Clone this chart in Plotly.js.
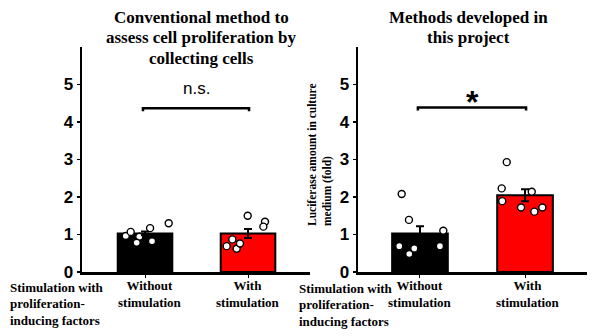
<!DOCTYPE html>
<html>
<head>
<meta charset="utf-8">
<script src="https://cdn.plot.ly/plotly-3.0.1.min.js"></script>
<style>html,body{margin:0;padding:0;background:#fff;}#chart{width:600px;height:336px;}</style>
</head>
<body>
<div id="chart"></div>
<script>
// ---- data ----
const catPos = [0, 1];
const catLabels = ['Without<br>stimulation', 'With<br>stimulation'];
const barColors = ['#000000', '#ff0000'];

// left panel: conventional method
const leftMeans = [1.03, 1.03];
const leftSEM = [0.05, 0.12];
const leftWithoutVals = [0.96, 1.07, 0.94, 0.78, 1.17, 0.82, 1.30];
const leftWithoutJit = [-0.187, -0.139, -0.055, -0.081, 0.049, 0.068, 0.230];
const leftWithVals = [0.69, 0.87, 0.62, 0.76, 1.50, 1.34, 1.21];
const leftWithJit = [-0.207, -0.152, -0.110, -0.078, -0.003, 0.165, 0.149];

// right panel: methods developed in this project
const rightMeans = [1.03, 2.05];
const rightSEM = [0.19, 0.16];
const rightWithoutVals = [2.08, 1.39, 1.10, 0.69, 0.63, 0.48, 0.69];
const rightWithoutJit = [-0.174, -0.105, 0.222, -0.197, -0.054, -0.102, 0.190];
const rightWithVals = [2.93, 2.23, 2.14, 1.89, 1.72, 1.61, 1.72];
const rightWithJit = [-0.174, -0.222, 0.064, -0.217, -0.038, 0.089, 0.165];

const yTicks = [0, 1, 2, 3, 4, 5];
const leftTitle = ['Conventional method to', 'assess cell proliferation by', 'collecting cells'];
const rightTitle = ['Methods developed in', 'this project'];
const rowLabel = ['Stimulation with', 'proliferation-', 'inducing factors'];
const yTitle = 'Luciferase amount in culture<br>medium (fold)';
const sigLeft = {text: 'n.s.', y: 4.37};
const sigRight = {text: '*', y: 4.39};

// ---- helpers ----
const W = 600, H = 336;
const px = x => x / W;
const py = y => 1 - y / H;
const serifB = {family: 'Liberation Serif, Times New Roman, serif', weight: 'bold', color: '#000'};

function pts(vals, jit, base, xa, ya) {
  return {
    type: 'scatter', mode: 'markers', xaxis: xa, yaxis: ya,
    x: vals.map((v, i) => base + jit[i]), y: vals,
    marker: {size: 7, color: '#fff', line: {color: '#000', width: 1.4}},
    hoverinfo: 'skip', showlegend: false, cliponaxis: false
  };
}
function bars(means, xa, ya) {
  return {
    type: 'bar', x: catPos, y: means, xaxis: xa, yaxis: ya, width: 0.53,
    marker: {color: barColors, line: {color: '#000', width: 2}},
    showlegend: false, hoverinfo: 'skip'
  };
}
function errs(means, sem, xa, ya) {
  return {
    type: 'scatter', mode: 'markers', x: catPos, y: means, xaxis: xa, yaxis: ya,
    marker: {size: 1, opacity: 0},
    error_y: {type: 'data', array: sem, visible: true, color: '#000', thickness: 2, width: 4},
    showlegend: false, hoverinfo: 'skip'
  };
}

const data = [
  bars(leftMeans, 'x', 'y'),
  pts(leftWithoutVals, leftWithoutJit, catPos[0], 'x', 'y'),
  pts(leftWithVals, leftWithJit, catPos[1], 'x', 'y'),
  errs(leftMeans, leftSEM, 'x', 'y'),
  bars(rightMeans, 'x2', 'y2'),
  pts(rightWithoutVals, rightWithoutJit, catPos[0], 'x2', 'y2'),
  pts(rightWithVals, rightWithJit, catPos[1], 'x2', 'y2'),
  errs(rightMeans, rightSEM, 'x2', 'y2')
];

const xBase = {
  tickvals: catPos, ticktext: catLabels, showticklabels: false,
  showline: true, linecolor: '#000', linewidth: 2.5,
  ticks: 'outside', ticklen: 3, tickwidth: 1, tickcolor: '#000',
  showgrid: false, zeroline: false, fixedrange: true
};
const yBase = {
  range: [0, 6], tickvals: yTicks, ticktext: yTicks.map(String),
  showline: true, linecolor: '#000', linewidth: 2.5,
  ticks: 'outside', ticklen: 3, tickwidth: 1.5, tickcolor: '#000',
  tickfont: {family: 'Liberation Sans, Arial, sans-serif', size: 17, weight: 'bold', color: '#000'},
  showgrid: false, zeroline: false, fixedrange: true,
  domain: [py(272), py(47)]
};

const annotations = [];
leftTitle.forEach((t, i) => annotations.push({
  text: t, xref: 'paper', yref: 'paper', x: px(201), y: py(17 + i * 20.5),
  xanchor: 'center', yanchor: 'middle', showarrow: false, font: Object.assign({size: 17}, serifB)
}));
rightTitle.forEach((t, i) => annotations.push({
  text: t, xref: 'paper', yref: 'paper', x: px(468), y: py(17 + i * 20.5),
  xanchor: 'center', yanchor: 'middle', showarrow: false, font: Object.assign({size: 17}, serifB)
}));
[8, 297].forEach((x0, k) => rowLabel.forEach((t, i) => annotations.push({
  text: t, xref: 'paper', yref: 'paper', x: px(x0), y: py(287 + k + i * 16.5),
  xanchor: 'left', yanchor: 'middle', showarrow: false, font: Object.assign({size: 13}, serifB)
})));
// category labels (x tick labels), placed under each bar
const catLabelX = [[150, 248], [420, 528]];
[['x', 'paper'], ['x2', 'paper']].forEach((ref, k) => catLabels.forEach((t, i) => annotations.push({
  text: t, xref: 'paper', yref: 'paper', x: px(catLabelX[k][i]), y: py(294),
  xanchor: 'center', yanchor: 'middle', align: 'center', showarrow: false,
  font: Object.assign({size: 13}, serifB)
})));
annotations.push({
  text: yTitle, xref: 'paper', yref: 'paper', x: px(320), y: py(155), textangle: -90,
  align: 'left', xanchor: 'center', yanchor: 'middle', showarrow: false,
  font: Object.assign({size: 11.5}, serifB)
});
annotations.push({
  text: sigLeft.text, xref: 'x', yref: 'y', x: 0.5, y: sigLeft.y + 0.52,
  xanchor: 'center', yanchor: 'middle', showarrow: false,
  font: {family: 'Liberation Sans, Arial, sans-serif', size: 17, color: '#000'}
});
annotations.push({
  text: sigRight.text, xref: 'x2', yref: 'y2', x: 0.5, y: sigRight.y + 0.14,
  xanchor: 'center', yanchor: 'middle', showarrow: false,
  font: {family: 'Liberation Sans, Arial, sans-serif', size: 32, weight: 'bold', color: '#000'}
});

function bracket(xr, yr, y) {
  return {
    type: 'path', xref: xr, yref: yr,
    path: `M -0.02 ${y - 0.08} L -0.02 ${y} L 1.01 ${y} L 1.01 ${y - 0.08}`,
    line: {color: '#000', width: 2.5}
  };
}

const layout = {
  width: W, height: H,
  margin: {l: 0, r: 0, t: 0, b: 0},
  paper_bgcolor: '#fff', plot_bgcolor: '#fff',
  showlegend: false, bargap: 0,
  xaxis: Object.assign({}, xBase, {domain: [px(82), px(310)], range: [-0.612, 1.602], anchor: 'y'}),
  yaxis: Object.assign({}, yBase, {anchor: 'x'}),
  xaxis2: Object.assign({}, xBase, {domain: [px(358), px(587)], range: [-0.590, 1.590], anchor: 'y2'}),
  yaxis2: Object.assign({}, yBase, {anchor: 'x2'}),
  annotations: annotations,
  shapes: [bracket('x', 'y', sigLeft.y), bracket('x2', 'y2', sigRight.y)]
};

Plotly.newPlot('chart', data, layout, {staticPlot: true, displayModeBar: false});
</script>
</body>
</html>
